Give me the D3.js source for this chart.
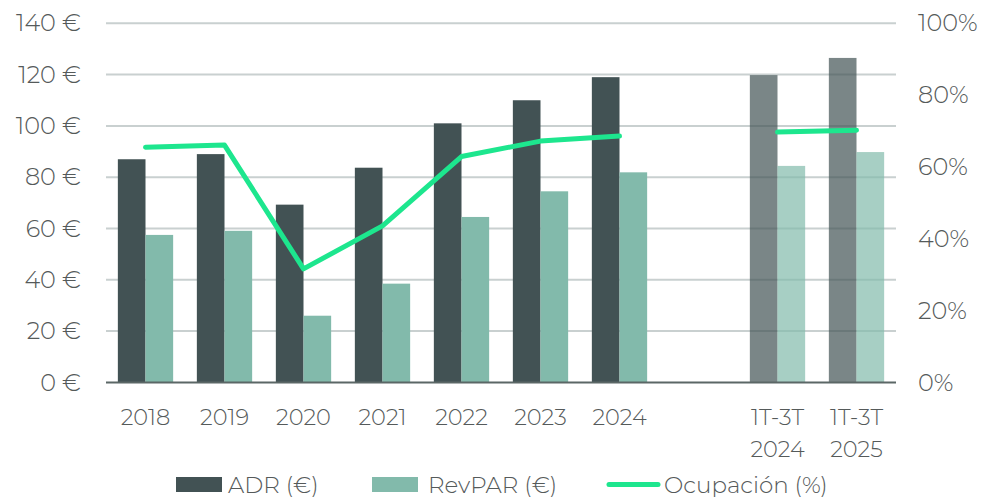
<!DOCTYPE html>
<html>
<head>
<meta charset="utf-8">
<script src="https://cdn.jsdelivr.net/npm/d3@7"></script>
<style>
  html, body { margin: 0; padding: 0; background: #fff; }
  svg { display: block; font-family: "Montserrat", "DejaVu Sans", sans-serif; font-weight: 300; }
</style>
</head>
<body>
<svg id="chart" width="982" height="498"></svg>
<script>
// ---- Data ----
const categories = ["2018", "2019", "2020", "2021", "2022", "2023", "2024", "", "1T-3T 2024", "1T-3T 2025"];
const adr        = [87, 89, 69.3, 83.7, 101, 110, 119, null, 119.8, 126.5];
const revpar     = [57.5, 59.1, 26, 38.5, 64.5, 74.5, 81.9, null, 84.4, 89.8];
const ocupacion  = [65.5, 66.1, 31.6, 43.6, 62.9, 67.2, 68.6, null, 69.7, 70.2];
const partial    = [false, false, false, false, false, false, false, false, true, true];
const leftTicks  = [0, 20, 40, 60, 80, 100, 120, 140];
const rightTicks = [0, 20, 40, 60, 80, 100];
const seriesNames = ["ADR (€)", "RevPAR (€)", "Ocupación (%)"];

// ---- Style ----
const colADR = "#425254", colRev = "#82baab", colLine = "#1de68e";
const textCol = "#555a5a";
const FONT = "Montserrat, 'DejaVu Sans', sans-serif";

const svg = d3.select("#chart");
const mLeft = 106, mRight = 896, mTop = 23.3, mBottom = 382.4;

const x = d3.scaleBand().domain(categories).range([mLeft, mRight]).paddingInner(0.3).paddingOuter(0.15);
const x1 = d3.scaleBand().domain(["adr", "rev"]).range([0, x.bandwidth()]).padding(0);
const y = d3.scaleLinear().domain([0, 140]).range([mBottom, mTop]);
const y2 = d3.scaleLinear().domain([0, 100]).range([mBottom, mTop]);

// gridlines
svg.append("g").selectAll("line").data(leftTicks.filter(d => d > 0)).join("line")
  .attr("x1", mLeft).attr("x2", mRight)
  .attr("y1", d => y(d)).attr("y2", d => y(d))
  .attr("stroke", "#c9d0d0").attr("stroke-width", 2);

// bars
const rows = categories.map((c, i) => ({ c, adr: adr[i], rev: revpar[i], occ: ocupacion[i], partial: partial[i] }));
const g = svg.append("g");
rows.filter(d => d.adr != null).forEach(d => {
  g.append("rect")
    .attr("x", x(d.c) + x1("adr")).attr("width", x1.bandwidth())
    .attr("y", y(d.adr)).attr("height", y(0) - y(d.adr))
    .attr("fill", colADR).attr("fill-opacity", d.partial ? 0.7 : 1);
  g.append("rect")
    .attr("x", x(d.c) + x1("rev")).attr("width", x1.bandwidth())
    .attr("y", y(d.rev)).attr("height", y(0) - y(d.rev))
    .attr("fill", colRev).attr("fill-opacity", d.partial ? 0.7 : 1);
});

// baseline
svg.append("line").attr("x1", mLeft).attr("x2", mRight).attr("y1", y(0)).attr("y2", y(0))
  .attr("stroke", "#5b6766").attr("stroke-width", 2);

// occupancy line
const line = d3.line()
  .defined(d => d.occ != null)
  .x(d => x(d.c) + x.bandwidth() / 2)
  .y(d => y2(d.occ));
svg.append("path").datum(rows).attr("d", line)
  .attr("fill", "none").attr("stroke", colLine).attr("stroke-width", 5)
  .attr("stroke-linecap", "round").attr("stroke-linejoin", "round");

// axes
const axL = svg.append("g").attr("transform", `translate(${mLeft},0)`)
  .call(d3.axisLeft(y).tickValues(leftTicks).tickFormat(d => d + " €").tickSize(0).tickPadding(25));
const axR = svg.append("g").attr("transform", `translate(${mRight},0)`)
  .call(d3.axisRight(y2).tickValues(rightTicks).tickFormat(d => d + "%").tickSize(0).tickPadding(22));
[axL, axR].forEach(a => {
  a.select(".domain").remove();
  a.selectAll("text").attr("fill", textCol).style("font-size", "24px")
    .style("font-family", FONT).style("font-weight", 300);
});

// x labels
const xl = svg.append("g");
categories.forEach(c => {
  if (!c) return;
  const parts = c.split(" ");
  const t = xl.append("text").attr("x", x(c) + x.bandwidth() / 2).attr("y", 425)
    .attr("text-anchor", "middle").attr("fill", textCol).style("font-size", "22.5px");
  parts.forEach((p, i) => t.append("tspan").attr("x", x(c) + x.bandwidth() / 2).attr("dy", i ? 32 : 0).text(p));
});

// legend
const lg = svg.append("g").style("font-size", "23px");
lg.append("rect").attr("x", 176).attr("y", 477).attr("width", 46).attr("height", 15).attr("fill", colADR);
lg.append("text").attr("x", 228).attr("y", 493).attr("fill", textCol).text(seriesNames[0]);
lg.append("rect").attr("x", 372).attr("y", 477).attr("width", 46).attr("height", 15).attr("fill", colRev);
lg.append("text").attr("x", 428).attr("y", 493).attr("fill", textCol).text(seriesNames[1]);
lg.append("line").attr("x1", 609).attr("x2", 658).attr("y1", 484.5).attr("y2", 484.5)
  .attr("stroke", colLine).attr("stroke-width", 5).attr("stroke-linecap", "round");
lg.append("text").attr("x", 664).attr("y", 493).attr("fill", textCol).text(seriesNames[2]);
</script>
</body>
</html>
